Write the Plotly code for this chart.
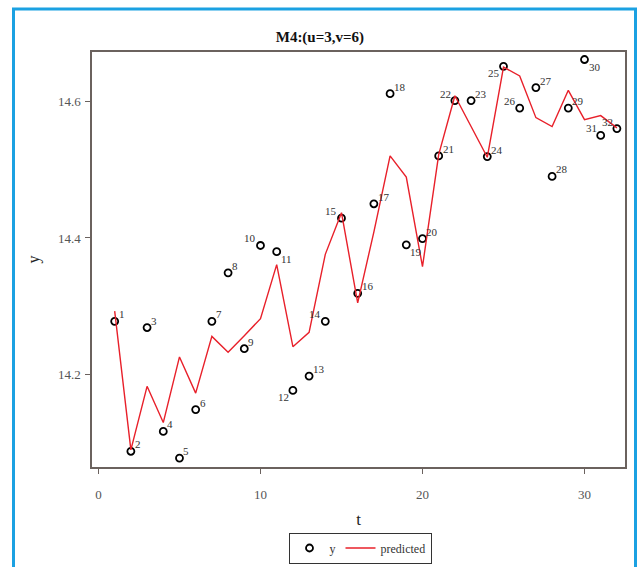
import plotly.graph_objects as go

t = list(range(1, 33))
y_obs = [14.278, 14.088, 14.269, 14.117, 14.078, 14.149, 14.278, 14.349, 14.238, 14.389,
         14.380, 14.177, 14.198, 14.278, 14.429, 14.319, 14.450, 14.611, 14.390, 14.399,
         14.520, 14.601, 14.601, 14.519, 14.651, 14.590, 14.620, 14.490, 14.590, 14.661,
         14.550, 14.560]
y_pred = [14.293, 14.090, 14.183, 14.130, 14.226, 14.173, 14.256, 14.233, 14.257, 14.282,
          14.361, 14.241, 14.262, 14.376, 14.437, 14.305, 14.409, 14.520, 14.489, 14.358,
          14.522, 14.608, 14.563, 14.518, 14.650, 14.637, 14.576, 14.563, 14.616, 14.573,
          14.579, 14.561]
labels = [str(i) for i in t]
label_pos = ["top right"] * 32
for i in [10, 14, 15, 22, 26, 31, 32]:
    label_pos[i - 1] = "top left"
for i in [11, 19, 30]:
    label_pos[i - 1] = "bottom right"
label_pos[12 - 1] = "bottom left"
label_pos[25 - 1] = "bottom left"

# pixel geometry helpers
W, H = 641, 567
L, R, T, B = 92, 16, 52, 100
pw, ph = W - L - R, H - T - B
def px(x):
    return (x - L) / pw
def py(y):
    return (H - B - y) / ph

serif = "Liberation Serif, Times New Roman, serif"
frame = "#6b625e"

fig = go.Figure()
fig.add_trace(go.Scatter(
    x=t, y=y_obs, mode="markers", name="y",
    marker=dict(symbol="circle-open", size=7, color="black", line=dict(width=1.8)),
))
fig.add_trace(go.Scatter(
    x=t, y=y_pred, mode="lines", name="predicted",
    line=dict(color="#e8202a", width=1.4),
))

annots = []
for xi, yi, lab, pos in zip(t, y_obs, labels, label_pos):
    vert, horiz = pos.split()
    annots.append(dict(
        x=xi, y=yi, xref="x", yref="y", text=lab, showarrow=False,
        xanchor="left" if horiz == "right" else "right",
        yanchor="bottom" if vert == "top" else "top",
        xshift=2 if horiz == "right" else -2,
        yshift=-1 if vert == "top" else 1,
        font=dict(family=serif, size=11, color="#333333"),
    ))

fig.update_layout(
    width=W, height=H,
    margin=dict(l=L, r=R, t=T, b=B, autoexpand=False),
    paper_bgcolor="white", plot_bgcolor="white",
    font=dict(family=serif, color="#333333"),
    title=dict(text="<b>M4:(u=3,v=6)</b>", x=px(358), xanchor="center",
               y=1 - 37 / H, yanchor="middle",
               font=dict(family=serif, size=15, color="#111111")),
    showlegend=True,
    legend=dict(orientation="h", x=px(360), xanchor="center", y=py(548), yanchor="middle",
                bordercolor="#333333", borderwidth=1, bgcolor="white",
                font=dict(family=serif, size=12, color="#333333"),
                itemwidth=30, tracegroupgap=0),
    annotations=annots,
    xaxis=dict(range=[-0.4, 32.5], tickvals=[0, 10, 20, 30], ticks="outside", ticklen=5,
               tickcolor=frame, showgrid=False, zeroline=False, showline=True,
               linecolor=frame, linewidth=1.5, mirror=True, ticklabelstandoff=10,
               automargin=False,
               tickfont=dict(family=serif, size=13, color="#555555"),
               title=dict(text="t", standoff=12, font=dict(family=serif, size=17, color="#222222"))),
    yaxis=dict(range=[14.065, 14.672], tickvals=[14.2, 14.4, 14.6], ticks="outside", ticklen=5,
               tickcolor=frame, showgrid=False, zeroline=False, showline=True,
               linecolor=frame, linewidth=1.5, mirror=True, ticklabelstandoff=2,
               automargin=False,
               tickfont=dict(family=serif, size=13, color="#555555"),
               title=dict(text="y", standoff=14, font=dict(family=serif, size=16, color="#222222"))),
    shapes=[dict(type="rect", xref="paper", yref="paper",
                 x0=px(13.5), x1=px(635.5), y0=py(600), y1=py(9),
                 line=dict(color="#1ba1e2", width=3), layer="above")],
)

fig.write_html("out.html")
